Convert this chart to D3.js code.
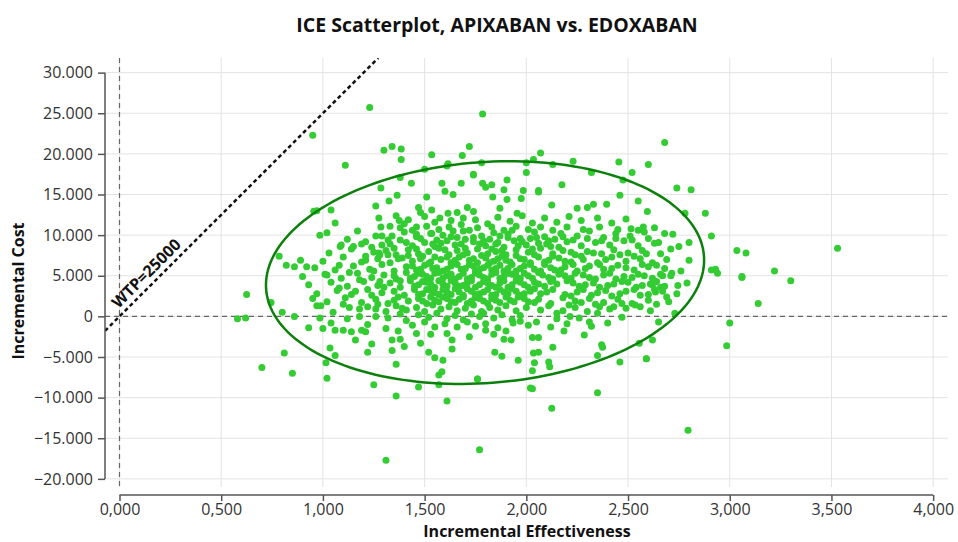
<!DOCTYPE html>
<html>
<head>
<meta charset="utf-8">
<script src="https://cdn.jsdelivr.net/npm/d3@7"></script>
<style>
  body { margin: 0; background: #fff; }
  svg { display: block; font-family: "Open Sans", sans-serif; }
</style>
</head>
<body>
<div id="chart"></div>
<script>
// axis ticks
const xTicks = [0, 0.5, 1, 1.5, 2, 2.5, 3, 3.5, 4]
const yTicks = [-20000, -15000, -10000, -5000, 0, 5000, 10000, 15000, 20000, 25000, 30000]

// willingness to pay threshold
const wtp = 25000

// confidence ellipse: center x, center y, x radius, y radius, y shear
const ellipseParams = [1.797, 5390, 1.077, 13620, 1540]

// simulated ICE pairs [incremental effectiveness, incremental cost]
const iceSamples = [
  // outer points
  [1.23,25700],[0.95,22300],[1.11,18600],[0.955,12950],[0.97,13000],[1.04,13100],[1.06,11500],[0.985,10000],
  [0.785,7400],[0.82,6300],[0.86,6100],[0.89,6900],[0.92,6100],[0.625,2700],[0.58,-300],[0.62,-200],
  [0.745,1700],[0.80,500],[0.86,0],[0.93,-1400],[0.95,2200],[1.02,5100],[0.99,1300],
  [0.70,-6300],[0.81,-4500],[0.85,-7000],[1.02,-7600],[1.015,-5700],[1.035,-3900],[1.06,-4800],
  [1.25,-8400],[1.36,-9800],[1.36,-5900],[1.31,-17700],[1.61,-10400],[1.47,-8700],[1.57,-8400],
  [1.22,-4400],[1.16,-2900],[1.24,-3400],[1.34,-4200],[1.40,-3700],[1.52,-4400],[1.55,-5100],
  [1.57,-7200],[1.585,-6800],[1.59,-5400],[1.635,-4000],[1.72,-2500],[1.76,-7700],[1.77,-16400],
  [1.34,-2900],[1.38,-2800],[1.48,-3300],[1.635,-2900],[1.66,-1300],[1.44,-1100],[1.41,-500],[1.32,-200],
  [1.05,500],[0.97,1300],[1.22,1200],[1.26,900],
  [3.14,1600],[3.0,-800],[2.985,-3600],[2.795,-14000],[2.125,-11300],[2.03,-8900],[2.35,-9400],
  [2.46,-5600],[2.59,-5200],[2.62,-2900],[2.555,-3300],[2.65,-700],[2.35,-4800],[2.37,-3500],[2.375,-3800],
  [2.13,-3800],[2.11,-5600],[2.115,-6200],[2.03,-6700],[2.04,-5700],[2.035,-4500],[2.06,-4400],
  [1.96,-5400],[1.88,-4900],[1.845,-4400],[2.03,-2600],[2.06,-2600],[1.925,-2900],[1.89,-2800],
  [2.32,-1200],[2.31,-700],[2.12,-1300],[2.49,1000],[2.43,1200],[2.24,1100],[1.79,400],
  [1.30,20450],[1.34,20900],[1.385,20600],[1.385,19300],[1.535,19900],[1.72,20900],[1.685,19800],
  [1.615,18800],[1.61,18500],[1.74,17500],[1.50,18100],[1.38,17100],[1.435,16400],[1.285,15800],
  [1.585,16400],[1.68,16400],[1.60,15400],[1.64,15000],[1.365,14900],[1.51,14700],[1.26,13600],
  [1.325,14200],[1.47,13400],[1.48,12800],[1.535,13100],[1.71,13400],[1.17,10500],[1.275,12100],
  [1.285,11000],[1.26,9900],[1.33,11100],[1.34,9900],[1.375,11800],[1.40,11400],[1.46,11000],
  [1.46,10100],[1.535,10200],[1.575,12100],[1.615,12700],[1.66,12800],[1.69,12100],[1.59,10000],
  [1.085,8600],[1.03,7800],[1.15,8600],[1.275,7800],
  [1.785,24900],[2.68,21400],[2.07,20100],[2.035,19300],[2.0,18900],[2.0,17700],[2.13,18700],
  [2.23,19100],[2.32,17700],[2.455,19000],[2.52,17700],[2.60,18700],[2.475,16800],[1.78,18900],
  [1.74,17400],[1.785,16400],[1.80,15900],[1.83,16200],[1.905,16800],[1.89,15600],[1.985,15500],
  [2.06,15500],[2.175,16200],[2.74,15800],[2.81,15600],[2.46,14900],[2.55,14200],[2.595,12900],
  [2.78,12700],[2.88,12700],[2.91,9900],[2.80,9100],[2.68,10200],[2.65,9100],[2.575,11000],
  [2.515,10800],[2.395,13800],[2.33,13800],[2.30,13400],[2.25,13300],[2.125,13700],[1.975,14500],
  [1.905,14400],[1.835,14700],[1.87,13300],[1.955,12700],[1.74,12900],[2.06,15300],
  [3.035,8100],[3.08,7800],[3.53,8400],[2.91,5700],[2.94,5300],[3.06,4800],[3.22,5600],[3.30,4400],
  [2.67,5000],[2.715,5300],[2.745,3800],[2.62,3900],[2.635,3000],[2.69,2400],[2.66,3600],[2.73,400],
  [2.59,-5200],[2.02,-8800],[1.76,-7700],
  // band 9500 to 10500
  [1.02,10300],[1.29,9900],[1.40,10400],[1.53,10200],[1.66,9700],[1.72,10600],[1.78,9900],[1.84,10300],
  [1.91,10100],[1.97,9600],[2.04,10400],[2.09,9800],[2.17,10200],[2.25,9900],[2.31,10500],[2.38,9700],
  [2.44,10200],[2.51,9900],[2.58,10400],[2.72,10100],
  // band 8500 to 9500
  [1.09,8800],[1.21,9200],[1.33,8900],[1.38,9400],[1.44,8700],[1.50,9100],[1.55,8600],[1.61,9300],
  [1.68,8900],[1.74,9200],[1.80,8700],[1.86,9100],[1.89,8500],[1.94,9300],[2.00,8800],[2.06,9000],
  [2.12,8600],[2.20,9200],[2.27,8700],[2.34,9100],[2.41,8800],[2.48,9300],[2.55,8700],[2.63,9000],[2.75,8600],
  // band 7500 to 8500
  [1.14,8300],[1.25,7900],[1.31,8100],[1.36,7600],[1.42,8200],[1.47,7700],[1.52,8000],[1.57,8400],
  [1.62,7600],[1.66,8100],[1.71,7800],[1.76,8300],[1.81,7700],[1.85,8000],[1.90,7600],[1.95,8200],
  [2.01,7900],[2.07,8400],[2.13,7700],[2.18,8100],[2.24,7600],[2.30,8000],[2.37,7700],[2.43,8200],
  [2.50,7800],[2.57,8100],[2.66,7700],[2.71,8300],
  // band 6500 to 7500
  [1.00,6800],[1.10,7300],[1.19,6700],[1.27,7100],[1.33,6600],[1.39,7200],[1.44,6800],[1.49,7400],
  [1.53,6700],[1.58,7000],[1.63,6600],[1.67,7300],[1.72,6900],[1.76,6600],[1.80,7200],[1.84,6800],
  [1.88,7400],[1.92,6700],[1.97,7100],[2.02,6600],[2.06,7300],[2.11,6900],[2.16,7200],[2.22,6700],
  [2.28,7000],[2.35,6600],[2.42,7300],[2.49,6800],[2.56,7100],[2.62,6600],[2.69,7000],[2.80,6900],
  // band 5500 to 6500
  [0.96,6000],[1.06,5700],[1.15,6200],[1.23,5800],[1.29,6400],[1.35,5600],[1.41,6100],[1.46,5700],
  [1.50,6300],[1.54,5900],[1.59,5600],[1.63,6200],[1.68,5800],[1.72,6400],[1.75,5600],[1.79,6000],
  [1.83,5700],[1.87,6300],[1.91,5900],[1.95,5600],[1.99,6200],[2.04,5800],[2.09,6400],[2.14,5700],
  [2.19,6100],[2.25,5600],[2.31,6200],[2.38,5800],[2.45,6300],[2.53,5700],[2.60,6100],[2.68,5900],
  [2.76,5600],[2.93,5800],
  // band 4500 to 5500
  [0.90,4900],[1.01,5200],[1.09,4700],[1.17,5300],[1.24,4800],[1.30,5100],[1.36,4600],[1.41,5400],
  [1.45,4900],[1.49,5200],[1.53,4700],[1.57,5400],[1.61,5000],[1.65,4600],[1.69,5300],[1.73,4800],
  [1.77,5100],[1.81,4600],[1.85,5400],[1.89,4900],[1.93,5200],[1.97,4700],[2.01,5000],[2.06,5400],
  [2.11,4800],[2.16,5200],[2.22,4700],[2.28,5100],[2.34,4600],[2.41,5300],[2.48,4900],[2.55,5200],
  [2.62,4700],[2.71,5000],[3.06,4900],
  // band 3500 to 4500
  [0.93,3900],[1.04,4200],[1.12,3700],[1.20,4300],[1.27,3800],[1.33,4100],[1.38,3600],[1.43,4400],
  [1.47,3900],[1.51,4200],[1.55,3600],[1.59,4000],[1.63,4400],[1.67,3700],[1.71,4100],[1.75,3600],
  [1.79,4300],[1.83,3800],[1.87,4100],[1.91,3600],[1.95,4400],[1.99,3900],[2.04,4200],[2.09,3700],
  [2.15,4000],[2.20,4400],[2.26,3700],[2.33,4100],[2.40,3800],[2.47,4300],[2.54,3600],[2.61,4000],
  [2.68,3700],[2.79,4100],
  // band 2500 to 3500
  [0.97,2800],[1.07,3200],[1.14,2700],[1.22,3300],[1.29,2900],[1.35,3100],[1.40,2600],[1.45,3300],
  [1.49,2800],[1.53,3200],[1.57,2700],[1.61,3000],[1.65,3400],[1.69,2600],[1.73,3100],[1.77,2800],
  [1.81,3300],[1.85,2700],[1.89,3000],[1.93,3400],[1.97,2600],[2.02,3100],[2.07,2800],[2.13,3300],
  [2.19,2700],[2.25,3000],[2.32,2600],[2.39,3200],[2.46,2800],[2.53,3300],[2.60,2700],[2.67,3100],[2.74,2800],
  // band 1500 to 2500
  [1.02,1800],[1.11,2300],[1.19,1700],[1.26,2100],[1.32,1600],[1.37,2400],[1.42,1900],[1.47,2200],
  [1.51,1600],[1.55,2000],[1.59,2400],[1.63,1800],[1.67,2100],[1.71,1600],[1.75,2300],[1.79,1900],
  [1.83,2200],[1.87,1700],[1.92,2000],[1.96,2400],[2.01,1800],[2.06,2100],[2.12,1600],[2.18,2300],
  [2.24,1900],[2.31,2200],[2.38,1700],[2.45,2100],[2.52,1600],[2.60,2000],[2.70,1800],
  // band 500 to 1500
  [1.13,1100],[1.31,600],[1.36,1300],[1.41,800],[1.46,1100],[1.50,600],[1.54,1400],[1.58,900],
  [1.62,1200],[1.66,700],[1.70,1000],[1.74,1400],[1.78,600],[1.82,1100],[1.86,800],[1.90,1300],
  [1.95,700],[2.00,1100],[2.07,800],[2.11,1300],[2.18,700],[2.30,600],[2.36,1200],[2.535,1400],[2.61,700],
  // band -500 to 500
  [0.985,-200],[1.12,-300],[1.18,0],[1.26,0],[1.38,300],[1.47,200],[1.52,-100],[1.56,400],[1.61,-300],
  [1.65,100],[1.69,-400],[1.73,300],[1.77,0],[1.84,-200],[1.88,200],[1.93,-400],[1.97,100],[2.15,400],
  [2.15,-300],[2.215,0],[2.26,-200],[2.35,400],[2.47,-100],
  // band -500 to -1500
  [1.00,-1500],[1.04,-800],[1.22,-1000],[1.31,-1500],[1.50,-700],[1.55,-1300],[1.60,-900],[1.71,-700],
  [1.75,-1200],[1.80,-900],[1.86,-1400],[1.935,-800],[1.97,-600],[2.01,-1100],[2.05,-700],[2.20,-900],[2.40,-800],
  // band -1500 to -2500
  [1.06,-1700],[1.10,-1700],[1.14,-1900],[1.19,-1700],[1.21,-1900],[1.37,-1800],[1.46,-2100],[1.53,-2200],
  [1.61,-2100],[1.80,-1700],[1.84,-2200],[1.90,-1800],[2.185,-1800],[2.285,-2300],
  // dense core
  [1.48,9600],[1.56,9400],[1.64,10500],[1.70,9500],[1.82,9500],[1.87,9900],[1.93,10600],[2.02,9600],[2.14,9500],
  [1.46,8300],[1.54,8900],[1.60,8200],[1.65,8800],[1.70,8400],[1.77,8900],[1.83,8300],[1.88,8100],
  [1.96,8700],[2.03,8300],[2.10,8900],[2.16,8500],
  [1.42,7500],[1.48,7100],[1.55,7300],[1.61,7300],[1.65,6900],[1.69,7600],[1.74,7100],[1.78,7500],
  [1.82,6600],[1.86,7100],[1.90,6900],[1.95,7500],[1.99,7000],[2.04,7600],[2.09,6700],[2.13,7400],[2.19,6800],
  [1.44,6200],[1.48,5800],[1.52,6500],[1.56,6000],[1.61,5800],[1.66,6400],[1.70,5900],[1.74,6200],
  [1.77,5800],[1.81,6300],[1.85,5900],[1.89,5600],[1.93,6400],[1.97,5900],[2.02,6400],[2.07,5600],[2.12,6000],[2.17,5700],
  [1.43,4700],[1.47,5300],[1.51,4900],[1.55,5300],[1.59,4700],[1.63,5200],[1.67,4900],[1.71,4600],
  [1.75,5300],[1.79,4800],[1.83,5200],[1.87,4700],[1.91,5300],[1.95,4900],[1.99,5300],[2.03,4700],
  [2.08,5100],[2.13,4600],[2.19,5000],
  [1.45,3700],[1.49,4300],[1.53,4000],[1.57,4400],[1.61,3700],[1.65,4100],[1.69,3800],[1.73,4400],
  [1.77,3900],[1.81,4100],[1.85,3600],[1.89,4400],[1.93,3900],[1.97,4200],[2.01,3600],[2.06,4000],[2.12,4300],
  [1.47,2700],[1.51,3300],[1.55,2900],[1.59,3300],[1.63,2700],[1.67,3000],[1.71,3400],[1.75,2700],
  [1.79,3000],[1.83,2600],[1.87,3300],[1.91,2800],[1.95,3100],[1.99,2800],[2.04,3400],[2.10,3000],
  [1.49,1900],[1.53,2400],[1.57,1800],[1.61,2200],[1.65,1700],[1.69,2400],[1.73,1900],[1.77,2200],
  [1.81,1600],[1.85,2000],[1.90,2400],[1.94,1800],[1.99,2200],[2.04,1700],
  // upper core
  [1.36,12400],[1.42,11900],[1.50,12300],[1.55,11600],[1.63,11800],[1.68,11300],[1.75,11900],[1.81,11400],
  [1.86,12200],[1.92,11700],[1.98,12400],[2.03,11500],[2.09,12100],[2.15,11600],[2.21,12300],[2.27,11800],
  [2.35,12100],[2.42,11500],[2.49,12000],
  [1.38,10900],[1.44,10600],[1.51,11100],[1.57,10700],[1.62,11000],[1.69,10500],[1.76,10900],[1.83,11000],
  [1.89,10600],[1.95,11100],[2.01,10700],[2.07,11000],[2.13,10600],[2.20,11000],[2.28,10700],[2.36,11000],
  [2.45,10700],[2.55,10600],[2.63,10900],
  [1.32,9400],[1.41,9100],[1.46,9800],[1.58,9000],[1.63,9800],[1.74,9700],[1.79,9300],[1.85,8900],
  [1.91,9700],[1.98,9200],[2.05,9700],[2.11,9300],[2.18,9800],[2.23,9400],[2.30,9600],[2.37,9300],
  [2.44,9600],[2.52,9400],[2.60,9600],
  // right side of core
  [2.22,7900],[2.27,7400],[2.33,7800],[2.39,7000],[2.46,7600],[2.53,7400],[2.59,7700],
  [2.23,6400],[2.29,5900],[2.36,6400],[2.42,5900],[2.49,6000],[2.57,6400],[2.64,6300],
  [2.24,5300],[2.31,4800],[2.38,5100],[2.44,4600],[2.52,4800],[2.58,5000],[2.66,5200],
  [2.23,4100],[2.29,3900],[2.36,3600],[2.43,4000],[2.50,4200],[2.57,3800],[2.64,4300],
  [2.22,2500],[2.28,3300],[2.35,2900],[2.42,2500],[2.49,3100],[2.56,2600],[2.63,3300],
  [2.21,1400],[2.27,1700],[2.34,1500],[2.41,900],[2.47,1600],[2.56,1200],[2.64,1500],
  // left side of core
  [1.08,6300],[1.13,5400],[1.18,4500],[1.21,6900],[1.25,5600],[1.28,4300],[1.32,7600],[1.35,5000],
  [1.38,4400],[1.08,3500],[1.16,3100],[1.24,2600],[1.30,3600],[1.10,1500],[1.18,900],[1.27,1500],
  [1.35,2000],[1.39,1000],[1.12,9500],[1.19,8900],[1.24,8500],[1.29,8800],[1.35,8400],[1.21,7400],
  [1.28,7600],[1.37,7100]
]

const width = 958
const height = 542
const plot = { left: 105, right: 948, top: 58, bottom: 487 }

const locale = d3.formatLocale({ decimal: ",", thousands: ".", grouping: [3], currency: ["", " €"] })
const fmtX = locale.format(",.3f")
const fmtY = locale.format(",.0f")

const x = d3.scaleLinear().domain([-0.0713, 4.073]).range([plot.left, plot.right])
const y = d3.scaleLinear().domain([-21000, 31800]).range([plot.bottom, plot.top])

const svg = d3.select("#chart").append("svg")
  .attr("width", width)
  .attr("height", height)

svg.append("defs").append("clipPath").attr("id", "plotClip")
  .append("rect")
  .attr("x", plot.left).attr("y", plot.top)
  .attr("width", plot.right - plot.left).attr("height", plot.bottom - plot.top)

// grid
const grid = svg.append("g").attr("stroke", "#e3e3e3").attr("stroke-width", 1)
grid.selectAll(".gx").data(xTicks).join("line")
  .attr("x1", d => x(d)).attr("x2", d => x(d))
  .attr("y1", plot.top).attr("y2", plot.bottom)
grid.selectAll(".gy").data(yTicks).join("line")
  .attr("x1", plot.left).attr("x2", plot.right)
  .attr("y1", d => y(d)).attr("y2", d => y(d))

// zero reference lines
svg.append("line")
  .attr("x1", x(0)).attr("x2", x(0)).attr("y1", plot.top).attr("y2", plot.bottom)
  .attr("stroke", "#666").attr("stroke-width", 1.2).attr("stroke-dasharray", "5,4")
svg.append("line")
  .attr("x1", plot.left).attr("x2", plot.right).attr("y1", y(0)).attr("y2", y(0))
  .attr("stroke", "#666").attr("stroke-width", 1.2).attr("stroke-dasharray", "5,4")

// points
svg.append("g").attr("clip-path", "url(#plotClip)")
  .selectAll("circle").data(iceSamples).join("circle")
  .attr("cx", d => x(d[0]))
  .attr("cy", d => y(d[1]))
  .attr("r", 3.5)
  .attr("fill", "#33cc33")

// ellipse
const [ecx, ecy, erx, ery, eshear] = ellipseParams
const ellipsePts = d3.range(0, 361, 2).map(a => {
  const t = a * Math.PI / 180
  return [ecx + erx * Math.cos(t), ecy + ery * Math.sin(t) + eshear * Math.cos(t)]
})
svg.append("path")
  .datum(ellipsePts)
  .attr("d", d3.line().x(d => x(d[0])).y(d => y(d[1])).curve(d3.curveLinearClosed))
  .attr("fill", "none")
  .attr("stroke", "#0b800b")
  .attr("stroke-width", 2.5)

// WTP line
const wtpEnd = y.domain()[1] / wtp
svg.append("line")
  .attr("clip-path", "url(#plotClip)")
  .attr("x1", x(x.domain()[0])).attr("y1", y(x.domain()[0] * wtp))
  .attr("x2", x(wtpEnd)).attr("y2", y(wtpEnd * wtp))
  .attr("stroke", "#111").attr("stroke-width", 2.5).attr("stroke-dasharray", "4,3")

const labelAt = 0.1716
svg.append("text")
  .attr("transform", `translate(${x(labelAt)},${y(labelAt * wtp)}) rotate(-45)`)
  .attr("dy", -6)
  .attr("text-anchor", "middle")
  .attr("font-size", 16)
  .attr("font-weight", "bold")
  .attr("fill", "#111")
  .text("WTP=" + wtp)

// axes
const yAxis = svg.append("g")
  .attr("transform", `translate(${plot.left},0)`)
  .call(d3.axisLeft(y).tickValues(yTicks).tickFormat(fmtY).tickSize(7).tickPadding(5))
yAxis.select(".domain").remove()
yAxis.append("line")
  .attr("y1", y(yTicks[0])).attr("y2", y(yTicks[yTicks.length - 1]))
  .attr("stroke", "#555").attr("stroke-width", 1.5)

const xAxis = svg.append("g")
  .attr("transform", "translate(0,495)")
  .call(d3.axisBottom(x).tickValues(xTicks).tickFormat(fmtX).tickSize(6).tickPadding(3))
xAxis.select(".domain").remove()
xAxis.append("line")
  .attr("x1", x(xTicks[0])).attr("x2", x(xTicks[xTicks.length - 1]))
  .attr("stroke", "#555").attr("stroke-width", 1.5)

svg.selectAll(".tick line").attr("stroke", "#555").attr("stroke-width", 1.5)
svg.selectAll(".tick text")
  .attr("font-size", 16)
  .attr("font-family", "'Open Sans', sans-serif")
  .attr("fill", "#333")

// titles
svg.append("text")
  .attr("x", 497).attr("y", 32)
  .attr("text-anchor", "middle")
  .attr("font-size", 19.5)
  .attr("font-weight", "bold")
  .attr("fill", "#111")
  .text("ICE Scatterplot, APIXABAN vs. EDOXABAN")

svg.append("text")
  .attr("x", 527).attr("y", 537)
  .attr("text-anchor", "middle")
  .attr("font-size", 16)
  .attr("font-weight", "bold")
  .attr("fill", "#111")
  .text("Incremental Effectiveness")

svg.append("text")
  .attr("transform", "translate(24,291) rotate(-90)")
  .attr("text-anchor", "middle")
  .attr("font-size", 16)
  .attr("font-weight", "bold")
  .attr("fill", "#111")
  .text("Incremental Cost")
</script>
</body>
</html>
